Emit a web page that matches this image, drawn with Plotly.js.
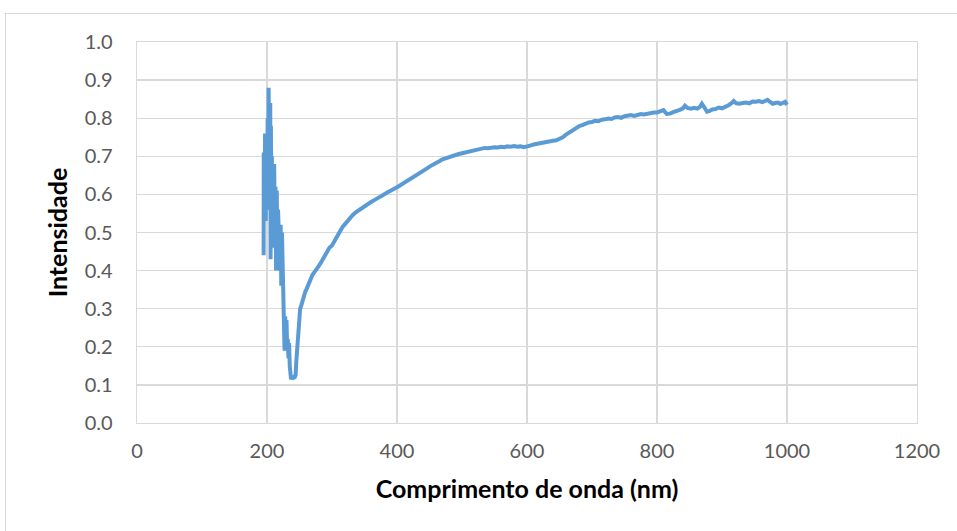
<!DOCTYPE html>
<html>
<head>
<meta charset="utf-8">
<script src="https://cdn.plot.ly/plotly-3.0.1.min.js"></script>
<style>
html,body{margin:0;padding:0;background:#fff;}
#frame{position:absolute;left:5px;top:13px;width:1000px;height:600px;border:1px solid #d9d9d9;box-sizing:border-box;}
#chart{position:absolute;left:0;top:0;width:957px;height:531px;}
</style>
</head>
<body>
<div id="frame"></div>
<div id="chart"></div>
<script>
const wavelength = [194.8,195.0,195.3,196,196.5,197,198,199,200,201,202,202.5,203,203.5,204,205,205.5,206,207,207.5,208,209,210,211,212,213,214,215,216,217,218,219,220,221,222,223,224,225,226,227,228,229,230,231,232,233,234,235,236,237,238,239,240,241,242,243,244,245,246,247,248,249,250,251,253,255,257,259,261,264,267,270,273,276,280,284,288,292,296,300,304,308,312,316,320,324,328,332,336,340,345,350,355,360,365,370,375,380,385,390,395,400,405,410,415,420,425,430,435,440,445,450,455,460,465,470,475,480,485,490,495,500,505,510,515,520,525,530,535,540,545,550,555,560,565,570,575,580,585,590,595,600,605,610,615,620,625,630,635,640,645,650,655,660,665,670,675,680,685,690,695,700,705,710,715,720,725,730,735,740,745,750,755,760,765,770,775,780,785,790,795,800,805,810,815,820,825,830,835,840,843,847,852,857,862,866,869,873,877,881,885,890,895,900,905,910,915,918,922,927,932,937,942,947,952,957,962,966,970,974,978,982,986,990,994,997,1000];
const intensity = [0.44,0.71,0.48,0.70,0.54,0.76,0.53,0.74,0.56,0.80,0.62,0.88,0.70,0.86,0.58,0.84,0.43,0.78,0.50,0.70,0.46,0.64,0.53,0.68,0.52,0.62,0.40,0.61,0.44,0.56,0.50,0.53,0.40,0.52,0.36,0.50,0.38,0.40,0.29,0.19,0.28,0.19,0.27,0.20,0.22,0.17,0.21,0.15,0.12,0.115,0.12,0.115,0.118,0.12,0.117,0.122,0.125,0.16,0.18,0.22,0.245,0.26,0.28,0.30,0.31,0.325,0.335,0.345,0.352,0.365,0.378,0.389,0.396,0.402,0.413,0.424,0.436,0.449,0.46,0.466,0.479,0.491,0.503,0.514,0.522,0.531,0.539,0.546,0.552,0.557,0.563,0.569,0.575,0.580,0.585,0.591,0.596,0.600,0.605,0.609,0.614,0.619,0.624,0.629,0.635,0.640,0.646,0.651,0.656,0.662,0.667,0.673,0.677,0.683,0.687,0.692,0.695,0.699,0.700,0.703,0.706,0.708,0.710,0.713,0.715,0.718,0.719,0.720,0.722,0.721,0.723,0.724,0.723,0.725,0.724,0.726,0.725,0.727,0.725,0.726,0.724,0.725,0.728,0.731,0.733,0.735,0.736,0.738,0.739,0.741,0.742,0.746,0.750,0.757,0.763,0.768,0.775,0.779,0.782,0.786,0.789,0.790,0.793,0.792,0.796,0.797,0.799,0.798,0.802,0.803,0.801,0.805,0.806,0.808,0.806,0.809,0.811,0.810,0.812,0.814,0.815,0.815,0.818,0.821,0.811,0.812,0.816,0.818,0.822,0.826,0.833,0.827,0.825,0.827,0.825,0.830,0.838,0.828,0.817,0.819,0.823,0.824,0.828,0.826,0.829,0.834,0.840,0.845,0.839,0.838,0.840,0.841,0.839,0.844,0.843,0.845,0.842,0.846,0.848,0.843,0.838,0.840,0.841,0.837,0.842,0.843,0.835];
const xTitle = "Comprimento de onda (nm)";
const yTitle = "Intensidade";

const tickFont = {family: "Lato, 'Open Sans', sans-serif", size: 20, color: "#595959"};
const titleFont = {family: "Lato, 'Open Sans', sans-serif", size: 25, color: "#000000", weight: "bold"};

const data = [{
  x: wavelength, y: intensity, type: "scatter", mode: "lines",
  line: {color: "#5b9bd5", width: 4}, hoverinfo: "skip"
}];
const layout = {
  width: 957, height: 531,
  margin: {l: 137, r: 40, t: 42, b: 108},
  paper_bgcolor: "rgba(0,0,0,0)", plot_bgcolor: "#ffffff",
  showlegend: false,
  xaxis: {
    range: [0, 1200], dtick: 200, tick0: 0, showgrid: true, gridcolor: "#d9d9d9", gridwidth: 1.3,
    showline: true, linecolor: "#d9d9d9", linewidth: 1.3, mirror: true, zeroline: false,
    ticks: "", tickfont: tickFont, ticklabelstandoff: 10,
    title: {text: "<b>" + xTitle + "</b>", font: titleFont, standoff: 19}
  },
  yaxis: {
    range: [0, 1.0], dtick: 0.1, tick0: 0, tickformat: ".1f", showgrid: true, gridcolor: "#d9d9d9", gridwidth: 1.3,
    showline: true, linecolor: "#d9d9d9", linewidth: 1.3, mirror: true, zeroline: false,
    ticks: "", tickfont: tickFont, ticklabelstandoff: 19,
    title: {text: "<b>" + yTitle + "</b>", font: titleFont, standoff: 10}
  }
};
Plotly.newPlot("chart", data, layout, {staticPlot: true, displayModeBar: false});
</script>
</body>
</html>
